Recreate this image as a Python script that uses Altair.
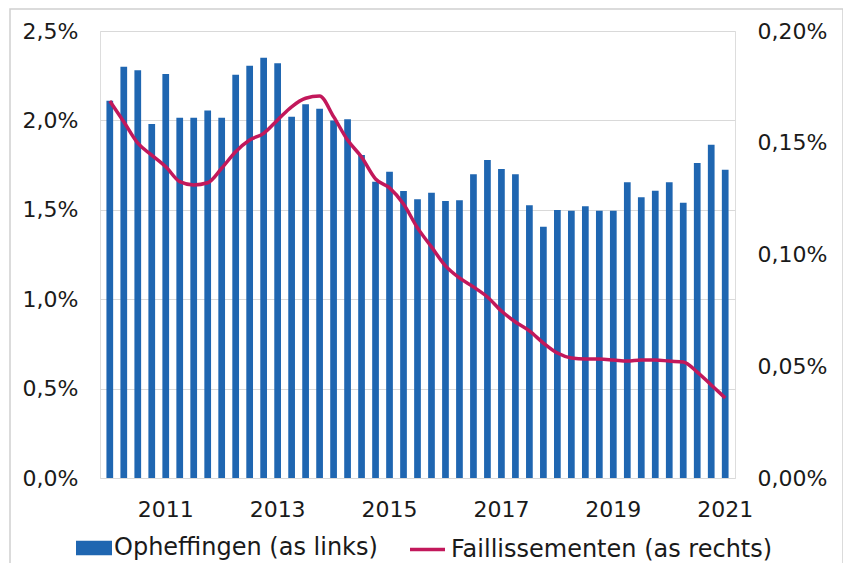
import altair as alt
import pandas as pd

# Quarterly categories 2010 K1 .. 2021 K1
years = list(range(2010, 2022))
quarters = [f"{y}K{q}" for y in years for q in (1, 2, 3, 4)][:45]
tick_quarters = ["2011K1", "2013K1", "2015K1", "2017K1", "2019K1", "2021K1"]

# Opheffingen (left axis, %)
opheffingen = [2.11, 2.30, 2.28, 1.98, 2.26, 2.015, 2.015, 2.056, 2.015, 2.255,
               2.306, 2.35, 2.32, 2.02, 2.09, 2.065, 2.00, 2.006, 1.806, 1.657,
               1.713, 1.605, 1.559, 1.596, 1.549, 1.553, 1.699, 1.778, 1.728, 1.699,
               1.525, 1.405, 1.499, 1.495, 1.52, 1.495, 1.495, 1.654, 1.57, 1.607,
               1.654, 1.54, 1.762, 1.864, 1.724]

# Faillissementen (right axis, %)
faillissementen = [0.1687, 0.1594, 0.1498, 0.1445, 0.1393, 0.1326, 0.1311, 0.1321, 0.1386, 0.1460,
                   0.1512, 0.1542, 0.1602, 0.1661, 0.1699, 0.1709, 0.1617, 0.1512, 0.1436, 0.1338,
                   0.1298, 0.1226, 0.1119, 0.1034, 0.0949, 0.0895, 0.0855, 0.0810, 0.0747, 0.0698,
                   0.0658, 0.0604, 0.0559, 0.0537, 0.0532, 0.0532, 0.0528, 0.0523, 0.0528, 0.0528,
                   0.0523, 0.0519, 0.0474, 0.0416, 0.0358]

left_ticks = [0, 0.5, 1.0, 1.5, 2.0, 2.5]
right_ticks = [0, 0.05, 0.10, 0.15, 0.20]

name_bar = "Opheffingen (as links)"
name_line = "Faillissementen (as rechts)"

BLUE = "#1f66b1"
RED = "#c2185b"
GRID = "#d9d9d9"
TEXT = "#1a1a1a"
FONT = "DejaVu Sans"
FS = 22
LFS = 24

df = pd.DataFrame({
    "kwartaal": quarters,
    "opheffingen": opheffingen,
    "faillissementen": faillissementen,
    "s1": name_bar,
    "s2": name_line,
})

W, H = 635, 447

x_enc = alt.X(
    "kwartaal:O", sort=quarters,
    scale=alt.Scale(paddingInner=0.52, paddingOuter=0.46),
    axis=alt.Axis(values=tick_quarters, labelExpr="slice(datum.value, 0, 4)",
                  labelAngle=0, ticks=False, domain=False, grid=False,
                  labelPadding=21, title=None, labelFontSize=FS, labelColor=TEXT,
                  labelFont=FONT),
)

bars = alt.Chart(df).mark_bar().encode(
    x=x_enc,
    y=alt.Y("opheffingen:Q", scale=alt.Scale(domain=[0, 2.5], nice=False),
            axis=alt.Axis(values=left_ticks, orient="left",
                          labelExpr="replace(format(datum.value, '.1f'), '.', ',') + '%'",
                          grid=True, gridColor=GRID, gridWidth=1, domain=False, ticks=False,
                          labelPadding=22, title=None, labelFontSize=FS, labelColor=TEXT,
                          labelFont=FONT)),
    color=alt.Color("s1:N", scale=alt.Scale(domain=[name_bar], range=[BLUE]),
                    legend=alt.Legend(title=None, orient="none", legendX=-24, legendY=499,
                                      symbolType="M-1,-0.4H1V0.4H-1Z", symbolSize=1296,
                                      symbolStrokeWidth=0, labelFontSize=LFS, labelColor=TEXT,
                                      labelFont=FONT, labelOffset=2, labelLimit=0)),
)

line = alt.Chart(df).mark_line(strokeWidth=3.5, interpolate="monotone").encode(
    x=x_enc,
    y=alt.Y("faillissementen:Q", scale=alt.Scale(domain=[0, 0.2], nice=False),
            axis=alt.Axis(values=right_ticks, orient="right",
                          labelExpr="replace(format(datum.value, '.2f'), '.', ',') + '%'",
                          grid=False, domain=False, ticks=False, labelPadding=22,
                          title=None, labelFontSize=FS, labelColor=TEXT, labelFont=FONT)),
    stroke=alt.Stroke("s2:N", scale=alt.Scale(domain=[name_line], range=[RED]),
                      legend=alt.Legend(title=None, orient="none", legendX=308, legendY=499,
                                        symbolType="stroke", symbolSize=1225,
                                        symbolStrokeWidth=3.5, labelFontSize=LFS,
                                        labelColor=TEXT, labelFont=FONT, labelOffset=4,
                                        labelLimit=0)),
)

frame = alt.Chart(pd.DataFrame({"a": [0]})).mark_rect(
    fill=None, stroke="#d0d0d0", strokeWidth=1.5
).encode(
    x=alt.value(-90), x2=alt.value(743), y=alt.value(-22), y2=alt.value(534)
)

chart = alt.layer(frame, bars, line).resolve_scale(
    y="independent", color="independent", stroke="independent"
).properties(
    width=W, height=H,
    autosize=alt.AutoSizeParams(type="none"),
    padding={"left": 92, "top": 23, "right": 108, "bottom": 85},
).configure_view(stroke=None).configure(font=FONT)

chart.save("out.html", embed_options={"renderer": "svg", "actions": False})
